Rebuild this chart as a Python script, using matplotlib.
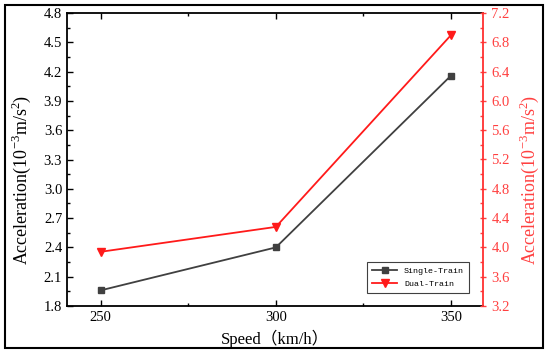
import matplotlib
matplotlib.use("Agg")
import matplotlib.pyplot as plt
from matplotlib.ticker import MultipleLocator, FormatStrFormatter
from matplotlib.patches import Rectangle

speed = [250, 300, 350]
single_train = [1.96, 2.40, 4.16]
dual_train = [3.94, 4.28, 6.90]

plt.rcParams['font.family'] = ['Liberation Serif', 'Noto Sans CJK SC']
plt.rcParams['mathtext.fontset'] = 'custom'
plt.rcParams['mathtext.rm'] = 'Liberation Serif'

fig = plt.figure(figsize=(5.5, 3.53), dpi=100)
ax = fig.add_axes([67/550, 1-306/353, (483-67)/550, (306-13)/353])
fig.patches.append(Rectangle((5/550, 5/353), (543-5)/550, (348-5)/353, transform=fig.transFigure,
                             fill=False, edgecolor='black', linewidth=1.5))

l1, = ax.plot(speed, single_train, color='#404040', marker='s', markersize=5, linewidth=1.3,
              label='Single-Train')
ax2 = ax.twinx()
l2, = ax2.plot(speed, dual_train, color='#ff1a1a', marker='v', markersize=6, linewidth=1.3,
               label='Dual-Train')

ax.set_xlim(240.4, 359.1)
ax.set_ylim(1.8, 4.8)
ax2.set_ylim(3.2, 7.2)
ax.set_xticks(speed)
ax.xaxis.set_minor_locator(MultipleLocator(25))
ax.yaxis.set_major_locator(MultipleLocator(0.3))
ax.yaxis.set_minor_locator(MultipleLocator(0.15))
ax.yaxis.set_major_formatter(FormatStrFormatter('%.1f'))
ax2.yaxis.set_major_locator(MultipleLocator(0.4))
ax2.yaxis.set_minor_locator(MultipleLocator(0.2))
ax2.yaxis.set_major_formatter(FormatStrFormatter('%.1f'))

ax.tick_params(axis='both', which='major', direction='in', length=4, width=1, labelsize=10.5,
               top=True, right=False, colors='black')
ax.tick_params(axis='both', which='minor', direction='in', length=2.5, width=1, top=True, right=False)
ax2.tick_params(axis='y', which='major', direction='inout', length=5, width=1, labelsize=10.5,
                colors='#ff4040')
ax2.tick_params(axis='y', which='minor', direction='in', length=2.5, width=1, colors='#ff4040')

for s in ['left', 'bottom', 'top']:
    ax.spines[s].set_linewidth(1.3)
ax2.spines['right'].set_color('#ff3030')
ax2.spines['right'].set_linewidth(1.3)
ax2.spines['left'].set_visible(False)
ax2.spines['top'].set_visible(False)
ax2.spines['bottom'].set_visible(False)
ax.spines['right'].set_visible(False)

ax.set_ylabel('Acceleration(10$^{-3}$m/s$^{2}$)', fontsize=13)
ax2.set_ylabel('Acceleration(10$^{-3}$m/s$^{2}$)', fontsize=13, color='#ff4040')
ax.yaxis.set_label_coords(-0.082, 0.43)
ax2.yaxis.set_label_coords(1.084, 0.43)
ax.set_xlabel('Speed（km/h）', fontsize=12, labelpad=4)

leg = ax2.legend([l1, l2], ['Single-Train', 'Dual-Train'], loc='lower right',
                 bbox_to_anchor=((469-67)/416, (306-293)/293), borderaxespad=0,
                 prop={'family': 'Liberation Mono', 'size': 6},
                 frameon=True, fancybox=False, edgecolor='#404040', handlelength=3,
                 borderpad=0.6, labelspacing=0.6, framealpha=1)
leg.get_frame().set_linewidth(0.8)

fig.savefig('out.png', dpi=100)
